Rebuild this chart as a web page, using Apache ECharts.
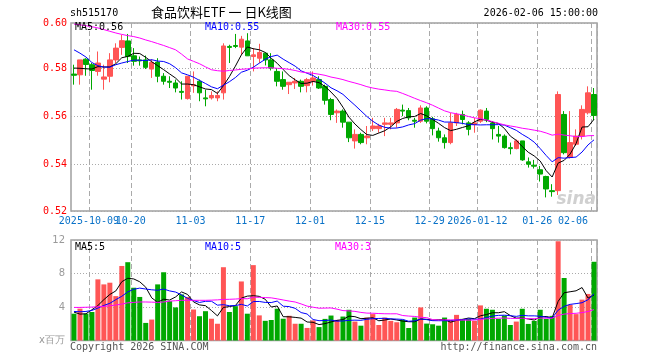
<!DOCTYPE html>
<html><head><meta charset="utf-8">
<script src="https://cdn.jsdelivr.net/npm/echarts@6/dist/echarts.min.js"></script>
<style>html,body{margin:0;padding:0;background:#fff}#c{width:660px;height:360px}</style>
</head><body><div id="c"></div>
<script>
const dates = ['2025-09-26','2025-09-29','2025-09-30','2025-10-09','2025-10-10','2025-10-13','2025-10-14','2025-10-15','2025-10-16','2025-10-17',
'2025-10-20','2025-10-21','2025-10-22','2025-10-23','2025-10-24','2025-10-27','2025-10-28','2025-10-29','2025-10-30','2025-10-31',
'2025-11-03','2025-11-04','2025-11-05','2025-11-06','2025-11-07','2025-11-10','2025-11-11','2025-11-12','2025-11-13','2025-11-14',
'2025-11-17','2025-11-18','2025-11-19','2025-11-20','2025-11-21','2025-11-24','2025-11-25','2025-11-26','2025-11-27','2025-11-28',
'2025-12-01','2025-12-02','2025-12-03','2025-12-04','2025-12-05','2025-12-08','2025-12-09','2025-12-10','2025-12-11','2025-12-12',
'2025-12-15','2025-12-16','2025-12-17','2025-12-18','2025-12-19','2025-12-22','2025-12-23','2025-12-24','2025-12-25','2025-12-26',
'2025-12-29','2025-12-30','2025-12-31','2026-01-05','2026-01-06','2026-01-07','2026-01-08','2026-01-09','2026-01-12','2026-01-13',
'2026-01-14','2026-01-15','2026-01-16','2026-01-19','2026-01-20','2026-01-21','2026-01-22','2026-01-23','2026-01-26','2026-01-27',
'2026-01-28','2026-01-29','2026-01-30','2026-02-02','2026-02-03','2026-02-04','2026-02-05','2026-02-06'];

const tickDates  = ['2025-10-09','2025-10-20','2025-11-03','2025-11-17','2025-12-01','2025-12-15','2025-12-29','2026-01-12','2026-01-26','2026-02-06'];
const tickLabels = ['2025-10-09','10-20','11-03','11-17','12-01','12-15','12-29','2026-01-12','01-26','02-06'];

const open = [0.5775,0.5772,0.5837,0.5814,0.5786,0.5754,0.5766,0.5834,0.5886,0.5913,
0.5851,0.5834,0.5834,0.5796,0.5825,0.5766,0.5745,0.5738,0.5703,0.5673,
0.5726,0.5745,0.5676,0.5676,0.5676,0.5697,0.5890,0.5894,0.5887,0.5913,
0.5848,0.5841,0.5862,0.5834,0.5786,0.5752,0.5731,0.5738,0.5745,0.5727,
0.5745,0.5752,0.5724,0.5669,0.5614,0.5621,0.5575,0.5497,0.5524,0.5510,
0.5548,0.5548,0.5566,0.5566,0.5572,0.5625,0.5623,0.5583,0.5579,0.5634,
0.5589,0.5538,0.5510,0.5490,0.5572,0.5607,0.5572,0.5565,0.5579,0.5621,
0.5572,0.5524,0.5517,0.5469,0.5465,0.5497,0.5410,0.5396,0.5377,0.5349,
0.5290,0.5290,0.5607,0.5428,0.5483,0.5517,0.5614,0.5690];
const close = [0.5770,0.5834,0.5815,0.5790,0.5821,0.5763,0.5834,0.5883,0.5914,0.5848,
0.5828,0.5830,0.5803,0.5823,0.5766,0.5745,0.5741,0.5717,0.5699,0.5766,
0.5731,0.5697,0.5672,0.5686,0.5686,0.5892,0.5886,0.5890,0.5920,0.5851,
0.5855,0.5865,0.5834,0.5800,0.5745,0.5724,0.5741,0.5745,0.5724,0.5752,
0.5759,0.5717,0.5666,0.5607,0.5621,0.5575,0.5510,0.5524,0.5490,0.5517,
0.5559,0.5559,0.5572,0.5572,0.5628,0.5621,0.5593,0.5579,0.5634,0.5579,
0.5548,0.5510,0.5490,0.5572,0.5607,0.5586,0.5545,0.5572,0.5625,0.5586,
0.5548,0.5517,0.5469,0.5465,0.5497,0.5418,0.5400,0.5392,0.5359,0.5297,
0.5286,0.5690,0.5448,0.5490,0.5517,0.5628,0.5697,0.5603];
const low = [0.5731,0.5731,0.5768,0.5710,0.5768,0.5710,0.5741,0.5821,0.5855,0.5821,
0.5810,0.5810,0.5796,0.5759,0.5741,0.5731,0.5717,0.5699,0.5669,0.5669,
0.5697,0.5662,0.5641,0.5669,0.5662,0.5669,0.5821,0.5883,0.5855,0.5851,
0.5786,0.5821,0.5811,0.5790,0.5724,0.5710,0.5692,0.5713,0.5699,0.5699,
0.5727,0.5713,0.5648,0.5583,0.5572,0.5552,0.5492,0.5465,0.5483,0.5483,
0.5538,0.5531,0.5517,0.5545,0.5552,0.5600,0.5583,0.5552,0.5572,0.5570,
0.5520,0.5494,0.5465,0.5483,0.5559,0.5566,0.5520,0.5531,0.5572,0.5575,
0.5503,0.5490,0.5465,0.5441,0.5462,0.5414,0.5386,0.5382,0.5328,0.5262,
0.5265,0.5272,0.5441,0.5424,0.5476,0.5503,0.5607,0.5583];
const high = [0.5814,0.5834,0.5841,0.5821,0.5869,0.5814,0.5862,0.5903,0.5938,0.5942,
0.5883,0.5848,0.5852,0.5837,0.5841,0.5779,0.5766,0.5752,0.5745,0.5766,
0.5786,0.5752,0.5710,0.5703,0.5703,0.5903,0.5897,0.5942,0.5934,0.5945,
0.5883,0.5901,0.5865,0.5862,0.5800,0.5786,0.5741,0.5759,0.5752,0.5759,
0.5786,0.5766,0.5731,0.5676,0.5628,0.5628,0.5575,0.5545,0.5531,0.5559,
0.5593,0.5568,0.5593,0.5593,0.5634,0.5648,0.5634,0.5593,0.5645,0.5641,
0.5597,0.5552,0.5524,0.5614,0.5614,0.5623,0.5579,0.5593,0.5628,0.5634,
0.5579,0.5559,0.5524,0.5490,0.5503,0.5497,0.5428,0.5418,0.5393,0.5352,
0.5317,0.5703,0.5621,0.5621,0.5545,0.5645,0.5724,0.5717];
const volume = [3.2,3.8,3.2,3.4,7.3,6.7,6.9,5.3,8.9,9.35,
6.3,5.2,2.1,2.5,6.7,8.15,4.7,3.95,5.5,5.2,
3.7,2.9,3.5,2.6,2.0,8.75,3.4,4.1,7.05,3.2,
9.0,3.0,2.35,2.45,3.8,2.6,2.95,2.0,2.0,1.5,
2.4,1.6,2.58,2.98,2.46,2.86,3.67,2.26,1.77,2.74,
3.15,1.85,2.74,2.34,2.18,2.46,1.49,2.74,3.95,2.02,
1.94,1.77,2.74,2.46,3.06,2.58,2.58,2.34,4.19,3.79,
3.67,2.58,2.98,1.85,2.26,3.79,1.98,2.34,3.67,2.58,
2.94,11.85,7.46,4.27,3.15,4.88,5.56,9.4];

const ma5Head  = [0.5800,0.5799,0.5797,0.5796];
const ma10Head = [0.5876,0.5862,0.5846,0.5823,0.5810,0.5804,0.5804,0.5814,0.5821];
const ma30Head = [0.5983,0.5980,0.5976,0.5972,0.5967,0.5960,0.5953,0.5946,0.5940,0.5935,
0.5931,0.5925,0.5917,0.5910,0.5902,0.5894,0.5885,0.5876,0.5858,0.5838,
0.5828,0.5818,0.5805,0.5793,0.5789,0.5787,0.5790,0.5792,0.5795];
const vma5Head  = [3.39,3.15,3.19,3.67];
const vma10Head = [3.47,3.43,3.47,3.59,3.87,4.19,4.44,4.88,5.28];
const vma30Head = [3.95,3.95,3.97,3.99,4.03,4.07,4.15,4.23,4.35,4.5,
4.55,4.6,4.6,4.58,4.55,4.6,4.7,4.75,4.8,4.8,
4.8,4.8,4.8,4.82,4.85,4.9,4.92,4.95,5.0];

const priceMin = 0.52054, priceMax = 0.59875;
const volMax = 12, volStep = 4;

function movingAvg(src, n, head) {
  return src.map(function (v, i) {
    if (i < n - 1) return head[i];
    let s = 0;
    for (let k = i - n + 1; k <= i; k++) s += src[k];
    return +(s / n).toFixed(5);
  });
}

const RED = '#ff5555', GREEN = '#00a800';
const MONO = '"DejaVu Sans Mono","Liberation Mono",monospace';
const tickSet = new Set(tickDates);
const labelOf = {};
tickDates.forEach(function (d, i) { labelOf[d] = tickLabels[i]; });

const candleData = dates.map(function (d, i) { return [open[i], close[i], low[i], high[i]]; });
const volData = volume.map(function (v, i) {
  return { value: v, itemStyle: { color: close[i] >= open[i] ? RED : GREEN } };
});

const dashV = { show: true, interval: function (i, v) { return tickSet.has(v); },
  lineStyle: { color: '#aaaaaa', type: [5, 3], width: 1 } };
const dotH = { show: true, lineStyle: { color: '#aaaaaa', type: [1, 2], width: 1 } };

function txt(x, y, text, color, align, size, family) {
  return { type: 'text', z: 100, x: x, y: y,
    style: { text: text, fill: color, font: (size || 10) + 'px ' + (family || MONO),
      align: align || 'left', textAlign: align || 'left', verticalAlign: 'middle', textVerticalAlign: 'middle' } };
}

const chart = echarts.init(document.getElementById('c'), null, { renderer: 'canvas' });
chart.setOption({
  animation: false,
  backgroundColor: '#fff',
  grid: [
    { left: 71, top: 23, width: 526, height: 188, show: true, borderColor: '#a0a0a0', borderWidth: 1.5, backgroundColor: 'transparent' },
    { left: 71, top: 240, width: 526, height: 100.5, show: true, borderColor: '#a0a0a0', borderWidth: 1.5, backgroundColor: 'transparent' }
  ],
  xAxis: [
    { type: 'category', gridIndex: 0, data: dates, boundaryGap: true,
      axisLine: { show: false }, axisTick: { show: false },
      axisLabel: { interval: 0,
        formatter: function (v) { return labelOf[v] || ''; },
        color: '#0a72c8', fontFamily: MONO, fontSize: 10, margin: 5,
        hideOverlap: false,
        padding: [0, 6, 0, 0], alignMaxLabel: 'right' },
      splitLine: dashV },
    { type: 'category', gridIndex: 1, data: dates, boundaryGap: true,
      axisLine: { show: false }, axisTick: { show: false }, axisLabel: { show: false },
      splitLine: dashV }
  ],
  yAxis: [
    { type: 'value', gridIndex: 0, min: priceMin, max: priceMax, splitNumber: 4,
      axisLine: { show: false }, axisTick: { show: false },
      axisLabel: { color: '#ff0000', fontFamily: MONO, fontSize: 10, margin: 4,
        showMinLabel: true, showMaxLabel: true,
        formatter: function (v) { return v.toFixed(2); } },
      splitLine: dotH },
    { type: 'value', gridIndex: 1, min: 0, max: volMax, interval: volStep,
      axisLine: { show: false }, axisTick: { show: false },
      axisLabel: { color: '#9a9a9a', fontFamily: '"DejaVu Sans",sans-serif', fontSize: 10, margin: 6,
        showMinLabel: true, showMaxLabel: true,
        formatter: function (v) { return v === 0 ? 'x百万' : String(v); } },
      splitLine: dotH }
  ],
  series: [
    { type: 'candlestick', xAxisIndex: 0, yAxisIndex: 0, data: candleData, barWidth: 5,
      itemStyle: { color: RED, color0: GREEN, borderColor: RED, borderColor0: GREEN, borderWidth: 1 } },
    { type: 'line', xAxisIndex: 0, yAxisIndex: 0, data: movingAvg(close, 5, ma5Head), symbol: 'none', lineStyle: { color: '#000', width: 1 }, z: 5 },
    { type: 'line', xAxisIndex: 0, yAxisIndex: 0, data: movingAvg(close, 10, ma10Head), symbol: 'none', lineStyle: { color: '#0000ff', width: 1 }, z: 5 },
    { type: 'line', xAxisIndex: 0, yAxisIndex: 0, data: movingAvg(close, 30, ma30Head), symbol: 'none', lineStyle: { color: '#ff00ff', width: 1 }, z: 5 },
    { type: 'bar', xAxisIndex: 1, yAxisIndex: 1, data: volData, barWidth: 5 },
    { type: 'line', xAxisIndex: 1, yAxisIndex: 1, data: movingAvg(volume, 5, vma5Head), symbol: 'none', lineStyle: { color: '#000', width: 1 }, z: 5 },
    { type: 'line', xAxisIndex: 1, yAxisIndex: 1, data: movingAvg(volume, 10, vma10Head), symbol: 'none', lineStyle: { color: '#0000ff', width: 1 }, z: 5 },
    { type: 'line', xAxisIndex: 1, yAxisIndex: 1, data: movingAvg(volume, 30, vma30Head), symbol: 'none', lineStyle: { color: '#ff00ff', width: 1 }, z: 5 }
  ],
  graphic: [
    txt(70, 13, 'sh515170', '#000'),
    txt(151, 12, '食品饮料ETF 一 日K线图', '#000', 'left', 13, '"Noto Sans CJK SC",sans-serif'),
    txt(598, 13, '2026-02-06 15:00:00', '#000', 'right'),
    txt(75, 27, 'MA5:0.56', '#000'),
    txt(205, 27, 'MA10:0.55', '#0000ff'),
    txt(336, 27, 'MA30:0.55', '#ff00ff'),
    txt(75, 247, 'MA5:5', '#000'),
    txt(205, 247, 'MA10:5', '#0000ff'),
    txt(335, 247, 'MA30:3', '#ff00ff'),
    txt(70, 347, 'Copyright 2026 SINA.COM', '#555'),
    txt(597, 347, 'http://finance.sina.com.cn', '#555', 'right'),
    { type: 'text', z: 1, x: 596, y: 200, style: { text: 'sina', fill: '#d0d0d0', font: 'italic bold 17px "DejaVu Sans",sans-serif',
      align: 'right', textAlign: 'right', verticalAlign: 'middle', textVerticalAlign: 'middle' } }
  ]
});
</script>
</body></html>
